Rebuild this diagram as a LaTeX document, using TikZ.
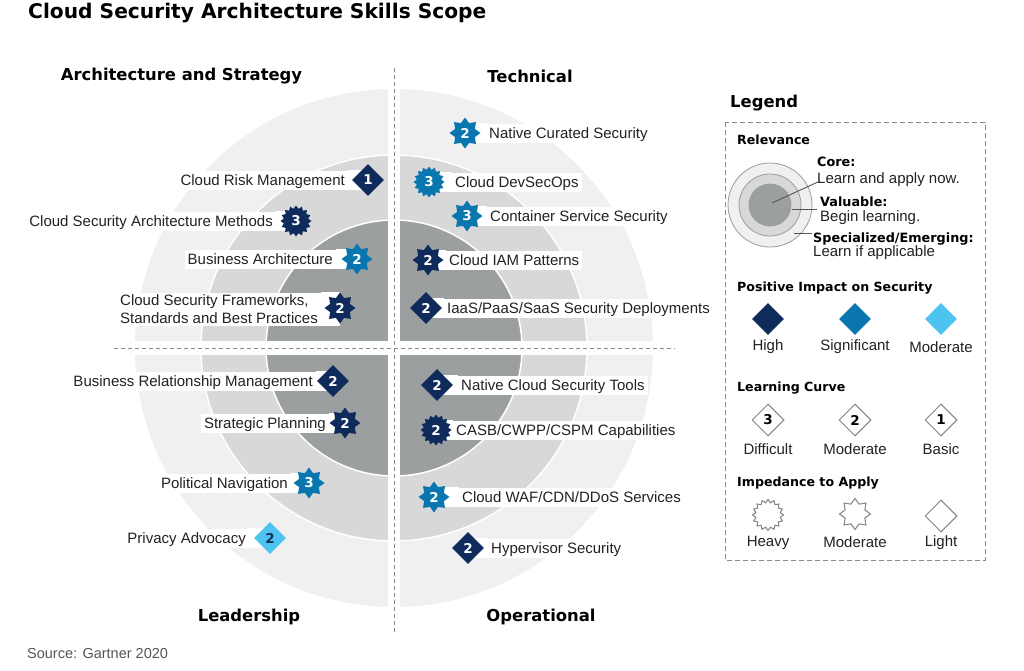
\documentclass[tikz,border=0pt]{standalone}
\usepackage{fontspec}
\setmainfont{Liberation Sans}
\newfontfamily\hb{DejaVu Sans}
\usetikzlibrary{shapes.geometric}
\definecolor{navy}{HTML}{0E2B5C}
\definecolor{sig}{HTML}{0A76B0}
\definecolor{lite}{HTML}{4DC3F0}
\definecolor{ringA}{HTML}{F0F0F0}
\definecolor{ringB}{HTML}{D8D8D8}
\definecolor{ringC}{HTML}{9B9F9F}
\definecolor{txtc}{HTML}{222222}
\definecolor{dashc}{HTML}{8A8A8A}
\definecolor{shapec}{HTML}{7F8585}
\definecolor{leadc}{HTML}{555555}
\tikzset{
  txt/.style={font=\fontsize{15}{18}\selectfont, text=txtc, fill=white, inner xsep=3pt, inner ysep=2.5pt, text height=12pt, text depth=2pt},
  txtplain/.style={font=\fontsize{15}{18}\selectfont, text=txtc, inner sep=0pt},
  head/.style={font=\hb\bfseries\fontsize{16.4}{18}\selectfont, text=black, inner sep=0pt},
  lhead/.style={font=\hb\bfseries\fontsize{12.6}{14}\selectfont, text=black, inner sep=0pt, anchor=west},
  lbold/.style={font=\hb\bfseries\fontsize{12.8}{14}\selectfont, text=black, inner sep=0pt, anchor=west},
  num/.style={text=white, font=\hb\bfseries\fontsize{13.5}{14}\selectfont},
  dia/.style={diamond, aspect=1, minimum size=32pt, inner sep=0pt, num},
  mstar/.style={star, star points=8, star point ratio=1.45, minimum size=31pt, inner sep=0pt, num},
  hstar/.style={star, star points=16, star point ratio=1.25, minimum size=31pt, inner sep=0pt, num},
  dashline/.style={draw=dashc, dash pattern=on 4pt off 3pt, line width=1pt},
  ringline/.style={draw=white, line width=1.5pt},
  outl/.style={draw=shapec, line width=1pt, fill=white},
  leader/.style={draw=leadc, line width=0.9pt},
}
\newcommand\skillL[7]{%
  \coordinate (c#1) at (#4,#3);
  \node[txt,anchor=east] (t#1) at (#2+3,#3) {#7};
  \fill[white] (t#1.north east) rectangle (c#1 |- t#1.south);
  \node[#5] (b#1) at (c#1) {#6};
}
\newcommand\skillR[7]{%
  \coordinate (c#1) at (#4,#3);
  \node[txt,anchor=west] (t#1) at (#2-3,#3) {#7};
  \fill[white] (t#1.north west) rectangle (c#1 |- t#1.south);
  \node[#5] (b#1) at (c#1) {#6};
}
\begin{document}
\begin{tikzpicture}[x=1pt,y=-1pt]
\fill[white] (0,0) rectangle (1024,670);
\useasboundingbox (0,0) rectangle (1024,670);

% rings
\coordinate (ctr) at (394,348);
\fill[ringA] (ctr) circle[radius=259pt];
\path[ringline, fill=ringB] (ctr) circle[radius=193pt];
\path[ringline, fill=ringC] (ctr) circle[radius=128pt];
\fill[white] (388,60) rectangle (400,640);
\fill[white] (100,341) rectangle (690,355);
\coordinate (vt) at (394,68);
\coordinate (vb) at (394,632);
\coordinate (hl) at (114,348);
\coordinate (hr) at (675,348);
\draw[dashline] (vt) -- (vb);
\draw[dashline] (hl) -- (hr);

% title and headings
\node[font=\hb\bfseries\fontsize{20.2}{22}\selectfont, anchor=west, inner sep=0pt] (title) at (28,13) {Cloud Security Architecture Skills Scope};
\node[head] (hAS) at (181.5,76) {Architecture and Strategy};
\node[head] (hT) at (530,76) {Technical};
\node[head] (hL) at (249,617) {Leadership};
\node[head] (hO) at (541,617) {Operational};
\node[font=\fontsize{14.5}{16}\selectfont, text=leadc, anchor=west, inner sep=0pt] (src) at (27,653) {Source: Gartner 2020};

% Architecture and Strategy
\skillL{1}{345}{180}{368}{dia,fill=navy}{1}{Cloud Risk Management}
\skillL{2}{273}{221}{296}{hstar,fill=navy}{3}{Cloud Security Architecture Methods}
\skillL{3}{333}{259}{357}{mstar,fill=sig}{2}{Business Architecture}
\coordinate (c4) at (340,308);
\node[txt, text height=, text depth=, align=left, anchor=east, inner ysep=2pt] (t4) at (321,309) {Cloud Security Frameworks,\\Standards and Best Practices};
\fill[white] (t4.north east) rectangle (c4 |- t4.south);
\node[mstar,fill=navy] (b4) at (c4) {2};

% Technical
\skillR{5}{489}{133}{465}{mstar,fill=sig}{2}{Native Curated Security}
\skillR{6}{455}{182}{429}{hstar,fill=sig}{3}{Cloud DevSecOps}
\skillR{7}{490}{216}{467}{mstar,fill=sig}{3}{Container Service Security}
\skillR{8}{449}{260}{428}{mstar,fill=navy}{2}{Cloud IAM Patterns}
\skillR{9}{447}{308}{426}{dia,fill=navy}{2}{IaaS/PaaS/SaaS Security Deployments}

% Leadership
\skillL{10}{313}{381}{333}{dia,fill=navy}{2}{Business Relationship Management}
\skillL{11}{326}{423}{345}{mstar,fill=navy}{2}{Strategic Planning}
\skillL{12}{288}{483}{309}{mstar,fill=sig}{3}{Political Navigation}
\skillL{13}{246}{538}{270}{dia,fill=lite,text=navy}{2}{Privacy Advocacy}

% Operational
\skillR{14}{461}{385}{437}{dia,fill=navy}{2}{Native Cloud Security Tools}
\skillR{15}{456}{430}{436}{hstar,fill=navy}{2}{CASB/CWPP/CSPM Capabilities}
\skillR{16}{462}{497}{434}{mstar,fill=sig}{2}{Cloud WAF/CDN/DDoS Services}
\skillR{17}{491}{548}{468}{dia,fill=navy}{2}{Hypervisor Security}

% Legend
\node[head, anchor=west] (lg) at (730,103) {Legend};
\draw[dashc, dash pattern=on 5pt off 3pt, line width=1pt] (725,122) rectangle (985,560);
\node[lhead] (lrel) at (737,140) {Relevance};
\coordinate (rc) at (770,205);
\draw[draw=shapec!80, line width=0.8pt, fill=ringA] (rc) circle[radius=42pt];
\draw[draw=shapec!80, line width=0.8pt, fill=ringB] (rc) circle[radius=31pt];
\draw[draw=shapec!80, line width=0.8pt, fill=ringC] (rc) circle[radius=21pt];
\node[lbold] (lcore) at (817,162) {Core:};
\node[txtplain, anchor=west] (lcore2) at (817,180) {Learn and apply now.};
\node[lbold] (lval) at (820,202) {Valuable:};
\node[txtplain, anchor=west] (lval2) at (820,218) {Begin learning.};
\node[lbold] (lspec) at (813,239) {Specialized/Emerging:};
\node[txtplain, anchor=west] (lspec2) at (813,253) {Learn if applicable};
\coordinate (k1a) at (772,203); \coordinate (k1b) at (820,181);
\coordinate (k2a) at (792,209); \coordinate (k2b) at (817,209);
\coordinate (k3a) at (794,233); \coordinate (k3b) at (812,233);
\draw[leader] (k1a) -- (k1b);
\draw[leader] (k2a) -- (k2b);
\draw[leader] (k3a) -- (k3b);

\node[lhead] (lpos) at (737,288) {Positive Impact on Security};
\node[dia, fill=navy] (p1) at (768,319) {};
\node[dia, fill=sig] (p2) at (855,319) {};
\node[dia, fill=lite] (p3) at (941,319) {};
\node[txtplain] (p1l) at (768,347) {High};
\node[txtplain] (p2l) at (855,347) {Significant};
\node[txtplain] (p3l) at (941,347) {Moderate};

\node[lhead] (llc) at (737,388) {Learning Curve};
\node[dia, outl, text=black] (q1) at (768,420) {3};
\node[dia, outl, text=black] (q2) at (855,420) {2};
\node[dia, outl, text=black] (q3) at (941,420) {1};
\node[txtplain] (q1l) at (768,449) {Difficult};
\node[txtplain] (q2l) at (855,449) {Moderate};
\node[txtplain] (q3l) at (941,449) {Basic};

\node[lhead] (limp) at (737,483) {Impedance to Apply};
\node[hstar, outl] (r1) at (768,515) {};
\node[mstar, outl] (r2) at (855,514) {};
\node[dia, outl] (r3) at (941,516) {};
\node[txtplain] (r1l) at (768,543) {Heavy};
\node[txtplain] (r2l) at (855,542) {Moderate};
\node[txtplain] (r3l) at (941,543) {Light};
\end{tikzpicture}
\end{document}
